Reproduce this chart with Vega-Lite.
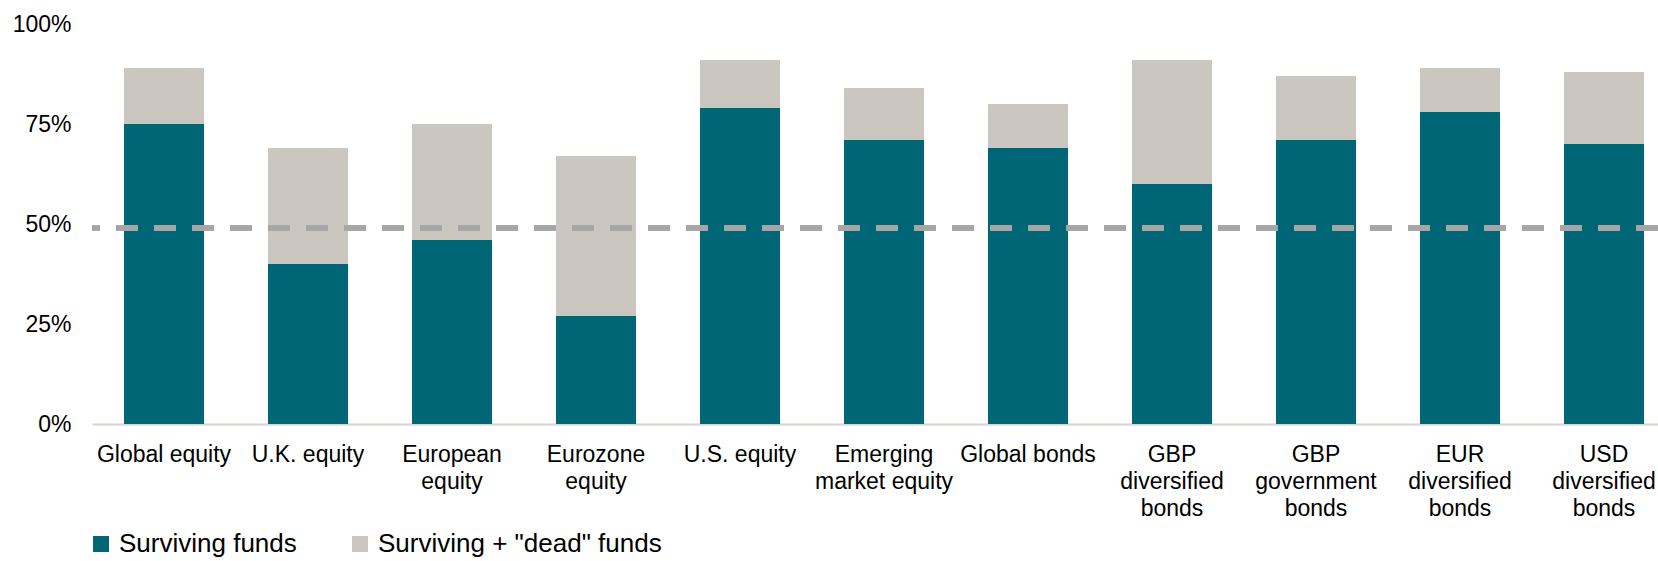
{
  "$schema": "https://vega.github.io/schema/vega-lite/v6.json",
  "width": 1566,
  "height": 400,
  "autosize": {"type": "none"},
  "padding": {"left": 92, "top": 24, "right": 0, "bottom": 137},
  "background": "white",
  "config": {
    "view": {"stroke": null},
    "font": "Liberation Sans",
    "axis": {"labelFont": "Liberation Sans", "labelColor": "#000000", "labelFontSize": 23, "grid": false, "ticks": false, "title": null},
    "legend": {"labelFont": "Liberation Sans", "labelFontSize": 26, "labelColor": "#000000", "labelLimit": 500}
  },
  "data": {
    "values": [
      {"category": "Global equity", "series": "Surviving + \"dead\" funds", "value": 0.89},
      {"category": "U.K. equity", "series": "Surviving + \"dead\" funds", "value": 0.69},
      {"category": "European equity", "series": "Surviving + \"dead\" funds", "value": 0.75},
      {"category": "Eurozone equity", "series": "Surviving + \"dead\" funds", "value": 0.67},
      {"category": "U.S. equity", "series": "Surviving + \"dead\" funds", "value": 0.91},
      {"category": "Emerging market equity", "series": "Surviving + \"dead\" funds", "value": 0.84},
      {"category": "Global bonds", "series": "Surviving + \"dead\" funds", "value": 0.80},
      {"category": "GBP diversified bonds", "series": "Surviving + \"dead\" funds", "value": 0.91},
      {"category": "GBP government bonds", "series": "Surviving + \"dead\" funds", "value": 0.87},
      {"category": "EUR diversified bonds", "series": "Surviving + \"dead\" funds", "value": 0.89},
      {"category": "USD diversified bonds", "series": "Surviving + \"dead\" funds", "value": 0.88},
      {"category": "Global equity", "series": "Surviving funds", "value": 0.75},
      {"category": "U.K. equity", "series": "Surviving funds", "value": 0.40},
      {"category": "European equity", "series": "Surviving funds", "value": 0.46},
      {"category": "Eurozone equity", "series": "Surviving funds", "value": 0.27},
      {"category": "U.S. equity", "series": "Surviving funds", "value": 0.79},
      {"category": "Emerging market equity", "series": "Surviving funds", "value": 0.71},
      {"category": "Global bonds", "series": "Surviving funds", "value": 0.69},
      {"category": "GBP diversified bonds", "series": "Surviving funds", "value": 0.60},
      {"category": "GBP government bonds", "series": "Surviving funds", "value": 0.71},
      {"category": "EUR diversified bonds", "series": "Surviving funds", "value": 0.78},
      {"category": "USD diversified bonds", "series": "Surviving funds", "value": 0.70}
    ]
  },
  "layer": [
    {
      "mark": {"type": "bar"},
      "encoding": {
        "x": {
          "field": "category",
          "type": "nominal",
          "sort": null,
          "scale": {"range": [0, 1584], "paddingInner": 0.444, "paddingOuter": 0.222},
          "axis": {
            "labelAngle": 0,
            "labelPadding": 19,
            "labelLineHeight": 27,
            "labelLimit": 0,
            "labelOverlap": false,
            "labelBound": false,
            "domain": true,
            "domainColor": "#d6d2cc",
            "domainWidth": 2,
            "labelExpr": "datum.value == 'European equity' ? ['European','equity'] : datum.value == 'Eurozone equity' ? ['Eurozone','equity'] : datum.value == 'Emerging market equity' ? ['Emerging','market equity'] : (indexof(datum.value, 'diversified') >= 0 || indexof(datum.value, 'government') >= 0) ? split(datum.value, ' ') : datum.value"
          }
        },
        "y": {
          "field": "value",
          "type": "quantitative",
          "stack": null,
          "scale": {"domain": [0, 1], "nice": false},
          "axis": {"values": [0, 0.25, 0.5, 0.75, 1], "format": ".0%", "domain": false, "labelPadding": 21}
        },
        "color": {
          "field": "series",
          "type": "nominal",
          "scale": {"domain": ["Surviving funds", "Surviving + \"dead\" funds"], "range": ["#006675", "#cbc7c0"]},
          "legend": {
            "title": null,
            "orient": "none",
            "direction": "horizontal",
            "legendX": -4,
            "legendY": 507,
            "symbolType": "square",
            "symbolSize": 256,
            "symbolStrokeWidth": 0,
            "labelOffset": 5,
            "columnPadding": 50
          }
        }
      }
    },
    {
      "mark": {"type": "rule", "color": "#a6a6a6", "strokeWidth": 4.5, "strokeDash": [22, 16]},
      "encoding": {"y": {"datum": 0.49}}
    }
  ]
}
